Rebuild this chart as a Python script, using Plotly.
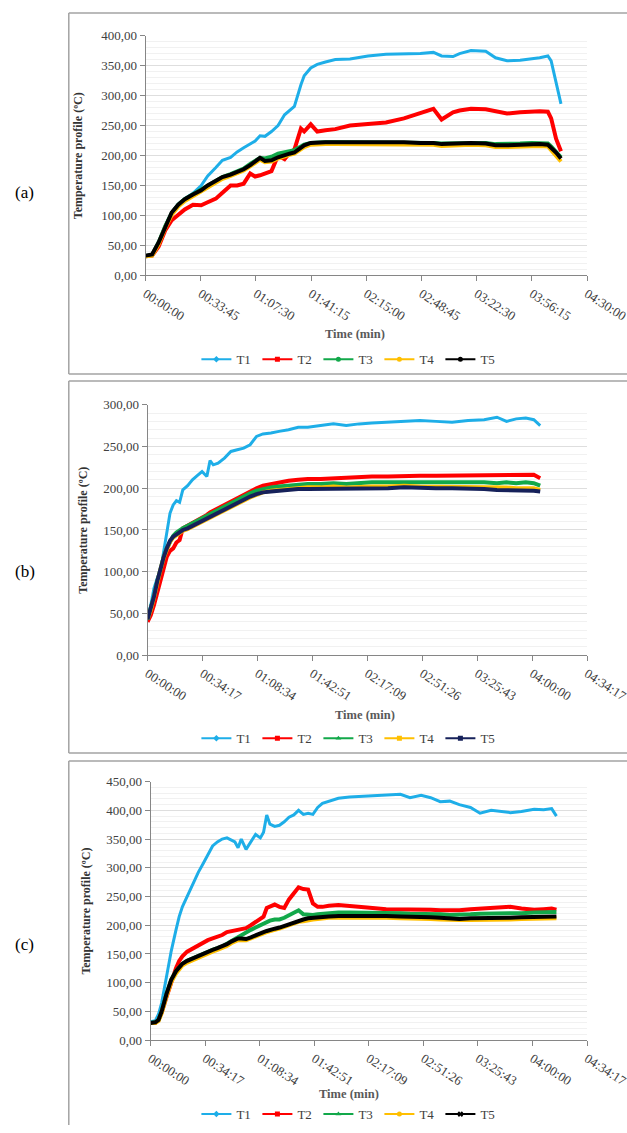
import plotly.graph_objects as go

W, H = 627, 1133          # reference geometry (all positions are fractions of this)
FIG_W = 672               # width of the captured page area

# ---------------- tick labels ----------------
xlabels_a = ["00:00:00", "00:33:45", "01:07:30", "01:41:15", "02:15:00",
             "02:48:45", "03:22:30", "03:56:15", "04:30:00"]
xlabels_bc = ["00:00:00", "00:34:17", "01:08:34", "01:42:51", "02:17:09",
              "02:51:26", "03:25:43", "04:00:00", "04:34:17"]
series_names = ["T1", "T2", "T3", "T4", "T5"]

# ---------------- panel (a) data : time (min) ----------------
t_a = [0, 4, 8, 12, 16, 20, 24, 29, 34, 38, 43, 47, 52, 56, 60, 64, 67, 70, 73, 77,
       81, 85, 88, 91, 95, 97, 101, 105, 110, 116, 125, 136, 147, 158, 168, 176, 181,
       188, 192, 199, 208, 214, 221, 229, 236, 241, 246, 248, 251, 254]
T1_a = [33, 34, 55, 82, 105, 119, 128, 137, 150, 166, 180, 192, 197, 206, 213, 220, 224, 233, 232, 240,
        250, 268, 275, 282, 318, 333, 346, 352, 356, 360, 361, 366, 369, 370, 370, 372, 366,
        365, 370, 375, 374, 363, 358, 359, 361, 363, 366, 358, 322, 286]
T2_a = [32, 33, 48, 75, 92, 102, 110, 118, 117, 122, 128, 138, 150, 150, 153, 170, 165, 167, 170, 174,
        200, 194, 204, 210, 245, 240, 252, 240, 242, 244, 250, 252, 255, 262, 270, 278, 260,
        272, 275, 278, 277, 274, 270, 272, 273, 274, 273, 262, 228, 207]
T3_a = [32, 34, 55, 82, 104, 118, 127, 135, 142, 150, 158, 164, 169, 173, 178, 186, 192, 196, 195, 198,
        203, 206, 208, 209, 215, 218, 221, 222, 222, 222, 222, 222, 222, 222, 221, 221, 220,
        220, 220, 221, 221, 219, 219, 220, 221, 221, 220, 215, 207, 197]
T4_a = [32, 33, 52, 79, 101, 115, 124, 132, 139, 147, 155, 161, 166, 170, 175, 182, 188, 193, 189, 190,
        195, 199, 201, 203, 210, 214, 218, 219, 219, 219, 219, 219, 219, 219, 218, 218, 216,
        217, 217, 218, 217, 214, 214, 215, 216, 216, 215, 209, 200, 190]
T5_a = [33, 35, 55, 82, 105, 118, 127, 135, 142, 150, 158, 164, 168, 172, 177, 184, 190, 196, 191, 192,
        197, 201, 203, 205, 213, 217, 221, 222, 222, 222, 222, 223, 222, 222, 221, 221, 219,
        220, 220, 221, 220, 217, 217, 218, 219, 219, 218, 213, 205, 195]

# ---------------- panel (b) data ----------------
t_b = [0, 2, 4, 6, 8, 10, 12, 14, 16, 18, 20, 22, 25, 28, 31, 34, 37, 39, 41, 44,
       48, 52, 56, 60, 64, 68, 72, 77, 82, 88, 94, 100, 108, 116, 124, 132, 140, 150,
       160, 170, 180, 190, 200, 210, 218, 224, 230, 236, 241, 245]
T1_b = [45, 60, 80, 92, 100, 125, 150, 170, 180, 185, 183, 198, 203, 210, 215, 220, 214, 233, 228, 230,
        236, 244, 246, 248, 252, 262, 265, 266, 268, 270, 273, 273, 275, 277, 275, 277, 278, 279,
        280, 281, 280, 279, 281, 282, 285, 280, 283, 284, 282, 275]
T2_b = [40, 48, 60, 75, 90, 105, 118, 125, 128, 135, 138, 152, 155, 158, 162, 165, 168, 171, 173, 176,
        180, 185, 189, 193, 197, 200, 203, 205, 207, 209, 210, 211, 211, 212, 212, 213, 214, 214,
        215, 215, 215, 215, 216, 216, 215, 216, 216, 216, 216, 212]
T3_b = [43, 55, 70, 88, 103, 117, 128, 137, 143, 147, 150, 152, 155, 158, 161, 164, 167, 169, 171, 174,
        178, 183, 187, 190, 194, 197, 199, 201, 202, 203, 204, 205, 205, 206, 205, 206, 207, 207,
        207, 208, 207, 207, 208, 207, 206, 207, 206, 207, 206, 203]
T4_b = [43, 54, 69, 87, 102, 116, 127, 136, 141, 144, 147, 149, 151, 154, 157, 160, 163, 165, 167, 170,
        174, 178, 182, 186, 189, 192, 195, 197, 198, 199, 200, 201, 201, 202, 201, 202, 202, 202,
        203, 202, 202, 202, 202, 202, 201, 201, 200, 200, 200, 198]
T5_b = [43, 55, 70, 88, 103, 117, 128, 137, 142, 145, 148, 150, 152, 155, 158, 161, 164, 166, 168, 171,
        175, 179, 183, 187, 190, 193, 195, 196, 197, 198, 199, 199, 199, 200, 199, 200, 200, 200,
        201, 200, 200, 200, 200, 199, 198, 198, 198, 198, 197, 196]

# ---------------- panel (c) data ----------------
t_c = [0, 3, 5, 7, 10, 13, 16, 18, 20, 23, 27, 30, 33, 36, 39, 42, 45, 48, 51, 53,
       55, 57, 60, 63, 66, 69, 71, 73, 75, 78, 81, 84, 87, 90, 93, 96, 99, 102, 105, 108,
       112, 118, 125, 136, 148, 157, 163, 170, 176, 182, 188, 194, 201, 207, 214, 220, 226,
       233, 241, 247, 252, 255]
T1_c = [32, 34, 45, 65, 110, 155, 192, 215, 232, 250, 275, 292, 307, 322, 338, 345, 350, 352, 347, 345,
        335, 350, 332, 345, 358, 352, 362, 392, 376, 372, 374, 380, 388, 392, 400, 393, 395, 393, 405, 412,
        416, 421, 423, 425, 427, 428, 422, 426, 422, 415, 416, 410, 405, 395, 400, 398, 396,
        398, 402, 401, 403, 390]
T2_c = [30, 30, 35, 48, 75, 102, 125, 138, 146, 154, 160, 165, 170, 174, 177, 180, 183, 188, 190, 190,
        191, 193, 195, 200, 205, 210, 215, 230, 233, 236, 232, 230, 245, 255, 266, 263, 262, 238, 232, 232,
        234, 235, 234, 231, 228, 228, 228, 227, 227, 226, 226, 226, 228, 229, 229, 231, 232,
        229, 227, 228, 229, 227]
T3_c = [30, 31, 35, 50, 80, 105, 120, 128, 133, 138, 143, 147, 150, 153, 157, 160, 163, 168, 173, 177,
        180, 183, 187, 192, 196, 200, 203, 205, 208, 210, 210, 213, 217, 222, 226, 219, 218, 218, 219, 220,
        221, 222, 222, 222, 221, 221, 220, 220, 219, 219, 218, 218, 219, 220, 220, 221, 221,
        221, 222, 222, 223, 223]
T4_c = [30, 30, 33, 47, 76, 101, 116, 124, 130, 135, 140, 144, 147, 150, 154, 157, 160, 164, 169, 172,
        174, 174, 174, 177, 181, 184, 186, 188, 190, 192, 194, 197, 200, 203, 206, 207, 209, 210, 211, 212,
        213, 213, 213, 214, 213, 212, 212, 211, 211, 210, 209, 209, 209, 209, 210, 210, 210,
        211, 211, 212, 212, 212]
T5_c = [30, 31, 35, 50, 80, 105, 120, 128, 133, 138, 143, 147, 150, 153, 157, 160, 163, 167, 172, 175,
        177, 177, 176, 179, 183, 186, 188, 190, 192, 194, 196, 199, 202, 205, 208, 210, 212, 213, 213, 214,
        215, 216, 216, 217, 216, 215, 215, 214, 214, 213, 212, 211, 212, 212, 213, 213, 213,
        214, 214, 215, 215, 215]

# ---------------- styles ----------------
colors_ac = ["#1eaee8", "#ff0000", "#12a84a", "#ffbf00", "#000000"]
colors_b = ["#1eaee8", "#ff0000", "#12a84a", "#ffbf00", "#16215a"]
widths = [3, 4, 4, 4, 4]
symbols_a = ["diamond", "square", "circle", "circle", "circle"]
symbols_b = ["diamond", "square", "triangle-up", "square", "square"]
symbols_c = ["diamond", "square", "triangle-up", "circle", "x"]

SERIF = "Liberation Serif, Times New Roman, Tinos, DejaVu Serif, serif"


def to_min(lbl):
    h, m, s = [int(v) for v in lbl.split(":")]
    return h * 60 + m + s / 60.0


panels = [
    dict(t=t_a, ys=[T1_a, T2_a, T3_a, T4_a, T5_a], labels=xlabels_a, ymax=400,
         colors=colors_ac, symbols=symbols_a,
         px=(141, 584, 29, 272), box=(6, 372), tag="(a)", tag_y=188,
         ytitle_x=73, xtitle=(351, 331), legend_y=357),
    dict(t=t_b, ys=[T1_b, T2_b, T3_b, T4_b, T5_b], labels=xlabels_bc, ymax=300,
         colors=colors_b, symbols=symbols_b,
         px=(143, 584, 403, 657), box=(379, 756), tag="(b)", tag_y=572,
         ytitle_x=78, xtitle=(361, 717), legend_y=741),
    dict(t=t_c, ys=[T1_c, T2_c, T3_c, T4_c, T5_c], labels=xlabels_bc, ymax=450,
         colors=colors_ac, symbols=symbols_c,
         px=(146, 584, 785, 1047), box=(764, 1133), tag="(c)", tag_y=950,
         ytitle_x=81, xtitle=(345, 1102), legend_y=1122),
]

fig = go.Figure()
layout = dict(
    width=FIG_W, height=H, margin=dict(l=0, r=0, t=0, b=0),
    paper_bgcolor="white", plot_bgcolor="white",
    separators=", ", showlegend=True,
    font=dict(family=SERIF, color="#404040"),
)
shapes = []
annotations = []
BOX = dict(color="#a3a3a3", width=1.5)

for i, p in enumerate(panels):
    k = "" if i == 0 else str(i + 1)
    xname, yname = "x" + k, "y" + k
    lname = "legend" + k
    x0, x1, y0, y1 = p["px"]
    tickvals = [to_min(s) for s in p["labels"]]

    for j, name in enumerate(series_names):
        fig.add_trace(go.Scatter(
            x=p["t"], y=p["ys"][j], mode="lines", name=name,
            line=dict(color=p["colors"][j], width=widths[j]),
            xaxis=xname, yaxis=yname, showlegend=False, hoverinfo="skip"))
    for j, name in enumerate(series_names):
        fig.add_trace(go.Scatter(
            x=[None], y=[None], mode="lines+markers", name=name,
            line=dict(color=p["colors"][j], width=2),
            marker=dict(color=p["colors"][j], size=5, symbol=p["symbols"][j]),
            xaxis=xname, yaxis=yname, legend=lname, showlegend=True))

    layout["xaxis" + k] = dict(
        domain=[x0 / W, x1 / W], anchor=yname, range=[0, tickvals[-1]],
        tickmode="array", tickvals=tickvals, ticktext=p["labels"],
        tickangle=33, ticks="outside", ticklen=5, tickcolor="#868686",
        showline=True, linecolor="#868686", linewidth=1, showgrid=False,
        zeroline=False, tickfont=dict(family=SERIF, size=13, color="#404040"))
    layout["yaxis" + k] = dict(
        domain=[1 - y1 / H, 1 - y0 / H], anchor=xname, range=[0, p["ymax"]],
        dtick=50, tickformat=".2f", ticks="outside", ticklen=5, tickcolor="#868686",
        showline=True, linecolor="#868686", linewidth=1,
        showgrid=True, gridcolor="#dedede", gridwidth=1, zeroline=False,
        minor=dict(dtick=10, showgrid=True, gridcolor="#f1f1f1", gridwidth=1),
        tickfont=dict(family=SERIF, size=13, color="#404040"))
    layout[lname] = dict(
        orientation="h", x=345 / W, xanchor="center", y=1 - p["legend_y"] / H,
        yanchor="middle", font=dict(family=SERIF, size=13, color="#404040"),
        itemwidth=30, entrywidth=16, tracegroupgap=0, bgcolor="rgba(0,0,0,0)",
        itemclick=False)

    # panel frame: top, bottom and left edges (right edge lies outside the picture)
    bt, bb = 1 - p["box"][0] / H, 1 - p["box"][1] / H
    shapes.append(dict(type="line", xref="paper", yref="paper", x0=64 / W, x1=1.0,
                       y0=bt, y1=bt, line=BOX))
    if p["box"][1] < H:
        shapes.append(dict(type="line", xref="paper", yref="paper", x0=64 / W, x1=1.0,
                           y0=bb, y1=bb, line=BOX))
    shapes.append(dict(type="line", xref="paper", yref="paper", x0=64 / W, x1=64 / W,
                       y0=max(bb, 0.0), y1=bt, line=BOX))

    annotations.append(dict(text=p["tag"], xref="paper", yref="paper", x=20 / W,
                            y=1 - p["tag_y"] / H, showarrow=False, xanchor="center",
                            yanchor="middle", font=dict(family=SERIF, size=17, color="#000000")))
    annotations.append(dict(text="<b>Temperature profile (ºC)</b>", xref="paper", yref="paper",
                            x=p["ytitle_x"] / W, y=1 - (y0 + y1) / 2 / H, textangle=-90,
                            showarrow=False, xanchor="center", yanchor="middle",
                            font=dict(family=SERIF, size=12, color="#333333")))
    annotations.append(dict(text="<b>Time (min)</b>", xref="paper", yref="paper",
                            x=p["xtitle"][0] / W, y=1 - p["xtitle"][1] / H,
                            showarrow=False, xanchor="center", yanchor="middle",
                            font=dict(family=SERIF, size=12.5, color="#595959")))

layout["shapes"] = shapes
layout["annotations"] = annotations
fig.update_layout(**layout)

post_js = (
    "var st=document.createElement('style');"
    "st.textContent='html,body{margin:0!important;padding:0!important;overflow:hidden!important;}"
    "svg.main-svg{overflow:hidden!important;}';"
    "document.head.appendChild(st);"
)
fig.write_html("out.html", config={"displayModeBar": False}, post_script=post_js)
